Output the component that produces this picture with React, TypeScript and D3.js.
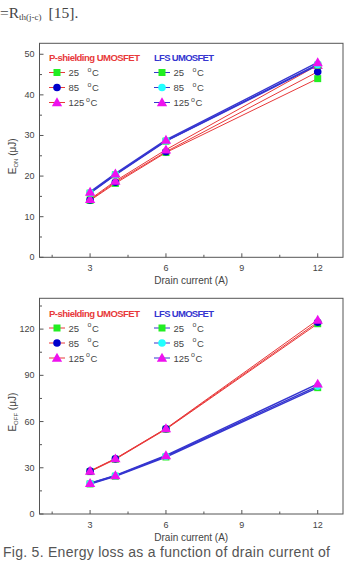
import React from "react";
import * as d3 from "d3";

const current = [3, 4, 6, 12];
const xTicks = [3, 6, 9, 12];
const xMinor = [1.5, 4.5, 7.5, 10.5];

const onP25 = [14.0, 18.2, 25.8, 44.0];
const onP85 = [14.1, 18.5, 26.0, 45.7];
const onP125 = [14.3, 18.8, 26.5, 47.3];
const onL25 = [15.8, 20.3, 28.6, 47.3];
const onL85 = [15.9, 20.4, 28.7, 47.5];
const onL125 = [16.1, 20.6, 28.9, 48.0];
const onTicks = [0, 10, 20, 30, 40, 50];

const offP25 = [27.5, 35.5, 55.0, 123.5];
const offP85 = [27.8, 35.8, 55.3, 124.5];
const offP125 = [28.0, 36.0, 55.5, 126.0];
const offL25 = [19.5, 24.5, 37.0, 82.0];
const offL85 = [19.8, 24.8, 37.5, 83.0];
const offL125 = [20.0, 25.0, 38.0, 84.5];
const offTicks = [0, 30, 60, 90, 120];

const temps = ["25", "85", "125"];

const RED = "#e8393a";
const BLUE = "#3535d0";
const FONT = "'Liberation Sans', Arial, sans-serif";

type Marker = "square" | "circle" | "triangle";
const markerShapes: Marker[] = ["square", "circle", "triangle"];
const pColors = ["#22ee22", "#0000cc", "#ee11ee"];
const lColors = ["#22ee22", "#22ffff", "#ee11ee"];

function MarkerShape({ kind, x, y, color }: { kind: Marker; x: number; y: number; color: string }) {
  if (kind === "square") return <rect x={x - 3.5} y={y - 3.5} width={7} height={7} fill={color} />;
  if (kind === "circle") return <circle cx={x} cy={y} r={3.8} fill={color} />;
  const s = d3.symbol(d3.symbolTriangle, 46)();
  return <path d={s || ""} transform={`translate(${x},${y + 0.8})`} fill={color} />;
}

function Panel({
  top, bottom, yMax, yTicks, yMinorStep, pData, lData, yLabelSub, legendTop,
}: {
  top: number; bottom: number; yMax: number; yTicks: number[]; yMinorStep: number;
  pData: number[][]; lData: number[][]; yLabelSub: string; legendTop: number;
}) {
  const left = 39.5, right = 343;
  const x = d3.scaleLinear().domain([1, 13]).range([left, right]);
  const y = d3.scaleLinear().domain([0, yMax]).range([bottom, top]);
  const line = d3.line<number>().x((_, i) => x(current[i])).y((d) => y(d));
  const yMinor = d3.range(yMinorStep, yMax, yMinorStep * 2);
  const series = [
    ...pData.map((d, i) => ({ d, stroke: RED, sw: 1, kind: markerShapes[i], color: pColors[i] })),
    ...lData.map((d, i) => ({ d, stroke: BLUE, sw: 1.4, kind: markerShapes[i], color: lColors[i] })),
  ];
  const cy = (top + bottom) / 2 + 6;
  return (
    <g fontFamily={FONT}>
      <rect x={left} y={top} width={right - left} height={bottom - top} fill="none" stroke="#555" strokeWidth={1} />
      {xTicks.map((t) => (
        <g key={"xt" + t}>
          <line x1={x(t)} x2={x(t)} y1={bottom} y2={bottom - 4} stroke="#555" />
          <text x={x(t)} y={bottom + 14} textAnchor="middle" fontSize={9} fill="#444">{t}</text>
        </g>
      ))}
      {xMinor.map((t) => (
        <line key={"xm" + t} x1={x(t)} x2={x(t)} y1={bottom} y2={bottom - 2.5} stroke="#555" />
      ))}
      {yTicks.map((t) => (
        <g key={"yt" + t}>
          <line x1={left} x2={left + 4} y1={y(t)} y2={y(t)} stroke="#555" />
          <text x={left - 5} y={y(t) + 3} textAnchor="end" fontSize={9} fill="#444">{t}</text>
        </g>
      ))}
      {yMinor.map((t) => (
        <line key={"ym" + t} x1={left} x2={left + 2.5} y1={y(t)} y2={y(t)} stroke="#555" />
      ))}
      <text x={(left + right) / 2} y={bottom + 27} textAnchor="middle" fontSize={10} fill="#444">Drain current (A)</text>
      <text transform={`translate(${16},${cy}) rotate(-90)`} textAnchor="middle" fontSize={10} fill="#444">
        E<tspan fontSize={6} dy={2}>{yLabelSub}</tspan><tspan dy={-2}> (μJ)</tspan>
      </text>
      {series.map((s, i) => (
        <path key={"l" + i} d={line(s.d) || ""} fill="none" stroke={s.stroke} strokeWidth={s.sw} />
      ))}
      {series.map((s, i) => (
        <g key={"m" + i}>
          {s.d.map((v, j) => (
            <MarkerShape key={j} kind={s.kind} x={x(current[j])} y={y(v)} color={s.color} />
          ))}
        </g>
      ))}
      {/* legend */}
      <text x={49} y={legendTop} fontSize={9.5} fontWeight="bold" fill={RED} textLength={91} lengthAdjust="spacing">P-shielding UMOSFET</text>
      <text x={154} y={legendTop} fontSize={9.5} fontWeight="bold" fill={BLUE} textLength={60} lengthAdjust="spacing">LFS UMOSFET</text>
      {temps.map((t, i) => {
        const ry = legendTop + 11.5 + i * 15;
        return (
          <g key={"lg" + i}>
            {[{ x0: 49, c: RED, col: pColors[i] }, { x0: 154, c: BLUE, col: lColors[i] }].map((g, k) => (
              <g key={k}>
                <line x1={g.x0} x2={g.x0 + 16} y1={ry} y2={ry} stroke={g.c} strokeWidth={1} />
                <MarkerShape kind={markerShapes[i]} x={g.x0 + 8} y={ry} color={g.col} />
                <text x={g.x0 + 19.5} y={ry + 3.5} fontSize={9.5} fill="#444">{t}</text>
                <text x={g.x0 + (t.length > 2 ? 37 : 38.5)} y={ry - 1} fontSize={7} fill="#444">o</text>
                <text x={g.x0 + (t.length > 2 ? 41.5 : 43)} y={ry + 3.5} fontSize={9.5} fill="#444">C</text>
              </g>
            ))}
          </g>
        );
      })}
    </g>
  );
}

export default function App() {
  return (
    <svg width={351} height={566} style={{ position: "absolute", left: 0, top: 0, background: "#fff" }}>
      <text x={0} y={18} fontFamily="'Liberation Serif', serif" fontSize={15.5} fill="#444">
        =R<tspan fontSize={9} dy={2}>th(j-c)</tspan><tspan dy={-2} dx={7}>[15].</tspan>
      </text>
      <Panel top={43.3} bottom={257.3} yMax={52.7} yTicks={onTicks} yMinorStep={5}
        pData={[onP25, onP85, onP125]} lData={[onL25, onL85, onL125]} yLabelSub="ON" legendTop={61} />
      <Panel top={298.3} bottom={514} yMax={140} yTicks={offTicks} yMinorStep={15}
        pData={[offP25, offP85, offP125]} lData={[offL25, offL85, offL125]} yLabelSub="OFF" legendTop={316.5} />
      <text x={3} y={557} fontFamily={FONT} fontSize={14} fill="#555" textLength={327} lengthAdjust="spacing">
        Fig. 5. Energy loss as a function of drain current of
      </text>
    </svg>
  );
}
